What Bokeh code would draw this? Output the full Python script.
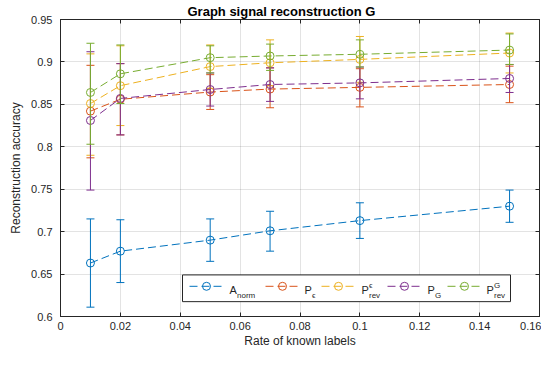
from bokeh.plotting import figure
from bokeh.models import Range1d, LinearAxis, FixedTicker, ColumnDataSource
from bokeh.embed import file_html
from bokeh.resources import INLINE
from bokeh.core.properties import value

# ---------------- data ----------------
rates = [0.01, 0.02, 0.05, 0.07, 0.10, 0.15]

a_norm_mean = [0.663, 0.677, 0.690, 0.701, 0.713, 0.730]
a_norm_low = [0.611, 0.640, 0.665, 0.677, 0.692, 0.711]
a_norm_high = [0.715, 0.714, 0.715, 0.724, 0.734, 0.749]

p_eps_mean = [0.842, 0.856, 0.8645, 0.868, 0.870, 0.8734]
p_eps_low = [0.787, 0.814, 0.844, 0.846, 0.847, 0.852]
p_eps_high = [0.896, 0.898, 0.885, 0.893, 0.892, 0.895]

p_rev_eps_mean = [0.851, 0.872, 0.8945, 0.899, 0.903, 0.9105]
p_rev_eps_low = [0.790, 0.825, 0.869, 0.872, 0.876, 0.887]
p_rev_eps_high = [0.9095, 0.919, 0.920, 0.926, 0.930, 0.934]

p_g_mean = [0.831, 0.857, 0.8675, 0.8734, 0.8753, 0.8805]
p_g_low = [0.749, 0.814, 0.848, 0.8535, 0.8565, 0.864]
p_g_high = [0.912, 0.898, 0.887, 0.893, 0.894, 0.897]

p_rev_g_mean = [0.864, 0.886, 0.905, 0.907, 0.909, 0.914]
p_rev_g_low = [0.803, 0.851, 0.887, 0.890, 0.894, 0.897]
p_rev_g_high = [0.922, 0.920, 0.919, 0.921, 0.926, 0.933]

x_ticks = [0, 0.02, 0.04, 0.06, 0.08, 0.10, 0.12, 0.14, 0.16]
x_tick_labels = ["0", "0.02", "0.04", "0.06", "0.08", "0.1", "0.12", "0.14", "0.16"]
y_ticks = [0.6, 0.65, 0.7, 0.75, 0.8, 0.85, 0.9, 0.95]
y_tick_labels = ["0.6", "0.65", "0.7", "0.75", "0.8", "0.85", "0.9", "0.95"]

leg_main = ["A", "P", "P", "P", "P"]
leg_sub = ["norm", "\u03f5", "rev", "G", "rev"]
leg_sup = ["", "", "\u03f5", "", "G"]

title_text = "Graph signal reconstruction G"
x_label = "Rate of known labels"
y_label = "Reconstruction accuracy"

series = [
    (a_norm_mean, a_norm_low, a_norm_high, "#0072BD"),
    (p_eps_mean, p_eps_low, p_eps_high, "#D95319"),
    (p_rev_eps_mean, p_rev_eps_low, p_rev_eps_high, "#EDB120"),
    (p_g_mean, p_g_low, p_g_high, "#7E2F8E"),
    (p_rev_g_mean, p_rev_g_low, p_rev_g_high, "#77AC30"),
]

# ---------------- layout / style ----------------
FONT = "Liberation Sans"
DARK = "#262626"
W, H = 541, 350
BL, BR, BT, BB = 60, 2, 16, 34
FW, FH = W - BL - BR, H - BT - BB

p = figure(width=W, height=H, output_backend="svg", toolbar_location=None,
           x_range=Range1d(0, 0.16), y_range=Range1d(0.6, 0.95),
           min_border_left=BL, min_border_right=BR,
           min_border_top=BT, min_border_bottom=BB,
           title=title_text)
p.background_fill_color = "white"
p.border_fill_color = "white"
p.outline_line_color = DARK

p.title.align = "left"
p.title.offset = 127
p.title.text_font = FONT
p.title.text_font_size = "13px"
p.title.text_font_style = "bold"
p.title.text_color = "black"
p.title.standoff = 2

xfmt = dict(zip(x_ticks, x_tick_labels))
yfmt = dict(zip(y_ticks, y_tick_labels))

for ax, ticks, fmt, lab in ((p.xaxis[0], x_ticks, xfmt, x_label),
                            (p.yaxis[0], y_ticks, yfmt, y_label)):
    ax.ticker = FixedTicker(ticks=ticks)
    ax.major_label_overrides = fmt
    ax.axis_label = lab
    ax.axis_label_text_font = FONT
    ax.axis_label_text_font_size = "12px"
    ax.axis_label_text_font_style = "normal"
    ax.axis_label_text_color = DARK
    ax.major_label_text_font = FONT
    ax.major_label_text_font_size = "11px"
    ax.major_label_text_color = DARK
    ax.axis_line_color = DARK
    ax.major_tick_line_color = DARK
    ax.major_tick_in = 4
    ax.major_tick_out = 0
    ax.minor_tick_line_color = None
p.xaxis.major_label_standoff = 5
p.xaxis.axis_label_standoff = 1
p.yaxis.major_label_standoff = 8
p.yaxis.axis_label_standoff = 5

for loc, ticks in (("right", y_ticks), ("above", x_ticks)):
    ax = LinearAxis(ticker=FixedTicker(ticks=ticks),
                    major_label_overrides={t: "" for t in ticks},
                    major_label_standoff=0, major_tick_in=4, major_tick_out=0,
                    minor_tick_line_color=None, axis_line_color=DARK,
                    major_tick_line_color=DARK)
    p.add_layout(ax, loc)

for g in (p.xgrid[0], p.ygrid[0]):
    g.grid_line_color = DARK
    g.grid_line_alpha = 0.13
p.xgrid.ticker = FixedTicker(ticks=x_ticks)
p.ygrid.ticker = FixedTicker(ticks=y_ticks)

# ---------------- data marks ----------------
for mean, low, high, col in series:
    src = ColumnDataSource(dict(x=rates, y=mean, lo=low, hi=high))
    p.segment(x0="x", y0="lo", x1="x", y1="hi", source=src, line_color=col, line_width=1)
    p.scatter(x="x", y="hi", source=src, marker="dash", size=8, line_color=col, line_width=1)
    p.scatter(x="x", y="lo", source=src, marker="dash", size=8, line_color=col, line_width=1)
    p.line(x="x", y="y", source=src, line_color=col, line_width=1, line_dash="8 4")
    p.scatter(x="x", y="y", source=src, marker="circle", size=8, fill_color=None,
              line_color=col, line_width=1)

# ---------------- legend (frame pixel coordinates) ----------------
p.extra_x_ranges = {"lg": Range1d(0, FW)}
p.extra_y_ranges = {"lg": Range1d(0, FH)}

box_l, box_r, box_b, box_t = 122, 450, 15, 42
sample_x0 = [129, 205, 261, 327, 387]
text_x = [169, 244, 301, 367, 426]
sample_len = 34
row_y = 30.5

p.quad(left=[box_l], right=[box_r], bottom=[box_b], top=[box_t],
       x_range_name="lg", y_range_name="lg",
       fill_color="white", line_color=DARK, line_width=1)

for i, (_, _, _, col) in enumerate(series):
    x0 = sample_x0[i]
    p.line(x=[x0, x0 + sample_len], y=[row_y, row_y], x_range_name="lg", y_range_name="lg",
           line_color=col, line_width=1, line_dash="8 4")
    p.scatter(x=[x0 + sample_len / 2], y=[row_y], x_range_name="lg", y_range_name="lg",
              marker="circle", size=8, fill_color=None, line_color=col, line_width=1)

main_src = ColumnDataSource(dict(x=text_x, y=[26.5] * 5, t=leg_main))
sub_src = ColumnDataSource(dict(x=[v + 7.5 for v in text_x], y=[21] * 5, t=leg_sub))
sup_src = ColumnDataSource(dict(x=[v + 7.5 for v in text_x], y=[31.5] * 5, t=leg_sup))
p.text(x="x", y="y", text="t", source=main_src, x_range_name="lg", y_range_name="lg",
       text_font=value(FONT), text_font_size="11px", text_color=DARK,
       text_baseline="alphabetic", text_align="left")
for s in (sub_src, sup_src):
    p.text(x="x", y="y", text="t", source=s, x_range_name="lg", y_range_name="lg",
           text_font=value(FONT), text_font_size="8px", text_color=DARK,
           text_baseline="alphabetic", text_align="left")

open("out.html", "w").write(file_html(p, INLINE))
